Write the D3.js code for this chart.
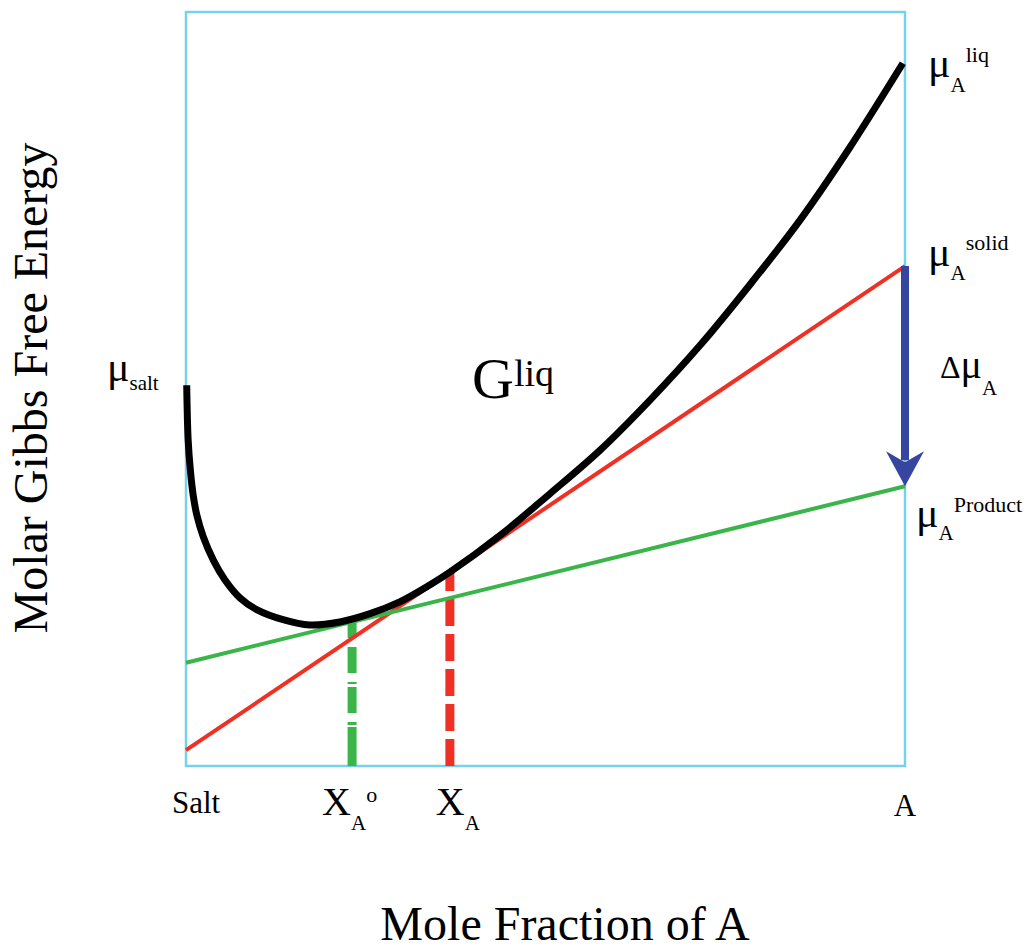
<!DOCTYPE html>
<html>
<head>
<meta charset="utf-8">
<script src="https://cdn.jsdelivr.net/npm/d3@7"></script>
<style>
  body { margin: 0; background: #fff; }
  text { font-family: "Liberation Serif", "Times New Roman", serif; fill: #000; }
</style>
</head>
<body>
<svg class="chart" width="1035" height="949"></svg>
<script>
// G(liq) curve (x = mole fraction of A, G in arbitrary units)
const curveX = [0.001, 0.003, 0.006, 0.01, 0.015, 0.024, 0.038, 0.054, 0.075, 0.099, 0.135, 0.172, 0.214,
                0.256, 0.298, 0.339, 0.367, 0.437, 0.506, 0.576, 0.645, 0.715, 0.784, 0.854, 0.923, 0.997];
const curveG = [50.5, 43.2, 39.3, 35.9, 33.3, 30.4, 27.3, 24.7, 22.3, 20.7, 19.4, 18.7, 19.1,
                20.2, 21.8, 24.0, 25.7, 30.6, 36.1, 41.9, 48.5, 55.8, 63.8, 72.4, 82.0, 93.2];

// tangent lines: G at x=0 (salt) and x=1 (A)
const solidTangent = [2.1, 66.3];
const productTangent = [13.7, 37.1];

// mole fractions marked on the axis
const xA0 = 0.231;
const xA = 0.367;

const xTickLabels = ["Salt", "A"];

var svg = d3.select("svg.chart"),
    margin = {top: 12, right: 130, bottom: 183, left: 186},
    width = parseInt(svg.attr("width")) - margin.left - margin.right,
    height = parseInt(svg.attr("height")) - margin.top - margin.bottom;

var x = d3.scaleLinear().domain([0, 1]).range([0, width]);
var y = d3.scaleLinear().domain([0, 100]).range([height, 0]);

var line = d3.line()
    .x(function(d) { return x(d[0]); })
    .y(function(d) { return y(d[1]); });

var red = "#ee3124", green = "#3bb54a", blue = "#3545a0", frame = "#76d1ea";

let g = svg.append("g").attr("transform", "translate(" + margin.left + "," + margin.top + ")");

// frame
g.append("rect")
    .attr("x", 0).attr("y", 0)
    .attr("width", width).attr("height", height)
    .attr("fill", "none")
    .attr("stroke", frame)
    .attr("stroke-width", 2.5);

function tangentAt(t, xv) { return t[0] + (t[1] - t[0]) * xv; }

// dashed drop lines (drawn from the axis up to the tangent points)
g.append("path")
    .datum([[xA0, 0], [xA0, tangentAt(productTangent, xA0)]])
    .attr("fill", "none")
    .attr("stroke", green)
    .attr("stroke-width", 9)
    .style("stroke-dasharray", "39,2,3,9,26,3,2,9,26,9,40")
    .attr("d", line);

g.append("path")
    .datum([[xA, 0], [xA, tangentAt(solidTangent, xA)]])
    .attr("fill", "none")
    .attr("stroke", red)
    .attr("stroke-width", 9)
    .style("stroke-dasharray", "27,8")
    .attr("d", line);

// tangents
g.append("path")
    .datum([[0, solidTangent[0]], [1, solidTangent[1]]])
    .attr("fill", "none")
    .attr("stroke", red)
    .attr("stroke-width", 4)
    .attr("d", line);

g.append("path")
    .datum([[0, productTangent[0]], [1, productTangent[1]]])
    .attr("fill", "none")
    .attr("stroke", green)
    .attr("stroke-width", 4)
    .attr("d", line);

// G liq curve
g.append("path")
    .datum(curveX.map(function(v, i) { return [v, curveG[i]]; }))
    .attr("fill", "none")
    .attr("stroke", "#000")
    .attr("stroke-width", 7)
    .attr("d", line.curve(d3.curveCatmullRom.alpha(0.5)));

// delta mu arrow
var ax = x(1), ay1 = y(solidTangent[1]), ay2 = y(productTangent[1]);
g.append("line")
    .attr("x1", ax).attr("x2", ax)
    .attr("y1", ay1).attr("y2", ay2 - 26)
    .attr("stroke", blue)
    .attr("stroke-width", 8);
g.append("path")
    .attr("d", "M" + ax + "," + ay2 + "L" + (ax - 19) + "," + (ay2 - 35) + "L" + ax + "," + (ay2 - 24) +
               "L" + (ax + 19) + "," + (ay2 - 35) + "Z")
    .attr("fill", blue);

// labels
function label(px, py, parts) {
    var t = svg.append("text").attr("x", px).attr("y", py);
    parts.forEach(function(p) {
        t.append("tspan").attr("font-size", p.size).attr("dy", p.dy || 0).text(p.text);
    });
    return t;
}

label(928, 77, [{text: "μ", size: 42}, {text: "A", size: 21, dy: 15}, {text: "liq", size: 22, dy: -30}]);
label(928, 266, [{text: "μ", size: 42}, {text: "A", size: 21, dy: 14}, {text: "solid", size: 22, dy: -30}]);
label(940, 378, [{text: "Δ", size: 32}, {text: "μ", size: 40}, {text: "A", size: 21, dy: 17}]);
label(916, 527, [{text: "μ", size: 42}, {text: "A", size: 21, dy: 13}, {text: "Product", size: 22, dy: -28}]);
label(107, 381, [{text: "μ", size: 42}, {text: "salt", size: 21, dy: 9}]);
label(472, 398, [{text: "G", size: 58}, {text: "liq", size: 38, dy: -12}]);

// x tick labels
svg.append("text").attr("x", margin.left + x(0) - 14).attr("y", 813)
    .attr("font-size", 31).text(xTickLabels[0]);
svg.append("text").attr("x", margin.left + x(1)).attr("y", 816)
    .attr("text-anchor", "middle").attr("font-size", 31).text(xTickLabels[1]);

label(margin.left + x(xA0) - 30, 815, [{text: "X", size: 40}, {text: "A", size: 21, dy: 15}, {text: "o", size: 22, dy: -28}]);
label(margin.left + x(xA) - 14, 815, [{text: "X", size: 40}, {text: "A", size: 21, dy: 15}]);

// axis titles
svg.append("text")
    .attr("x", 565).attr("y", 940)
    .attr("text-anchor", "middle")
    .attr("font-size", 48)
    .text("Mole Fraction of A");

svg.append("text")
    .attr("transform", "translate(47,388) rotate(-90)")
    .attr("text-anchor", "middle")
    .attr("font-size", 48)
    .text("Molar Gibbs Free Energy");
</script>
</body>
</html>
